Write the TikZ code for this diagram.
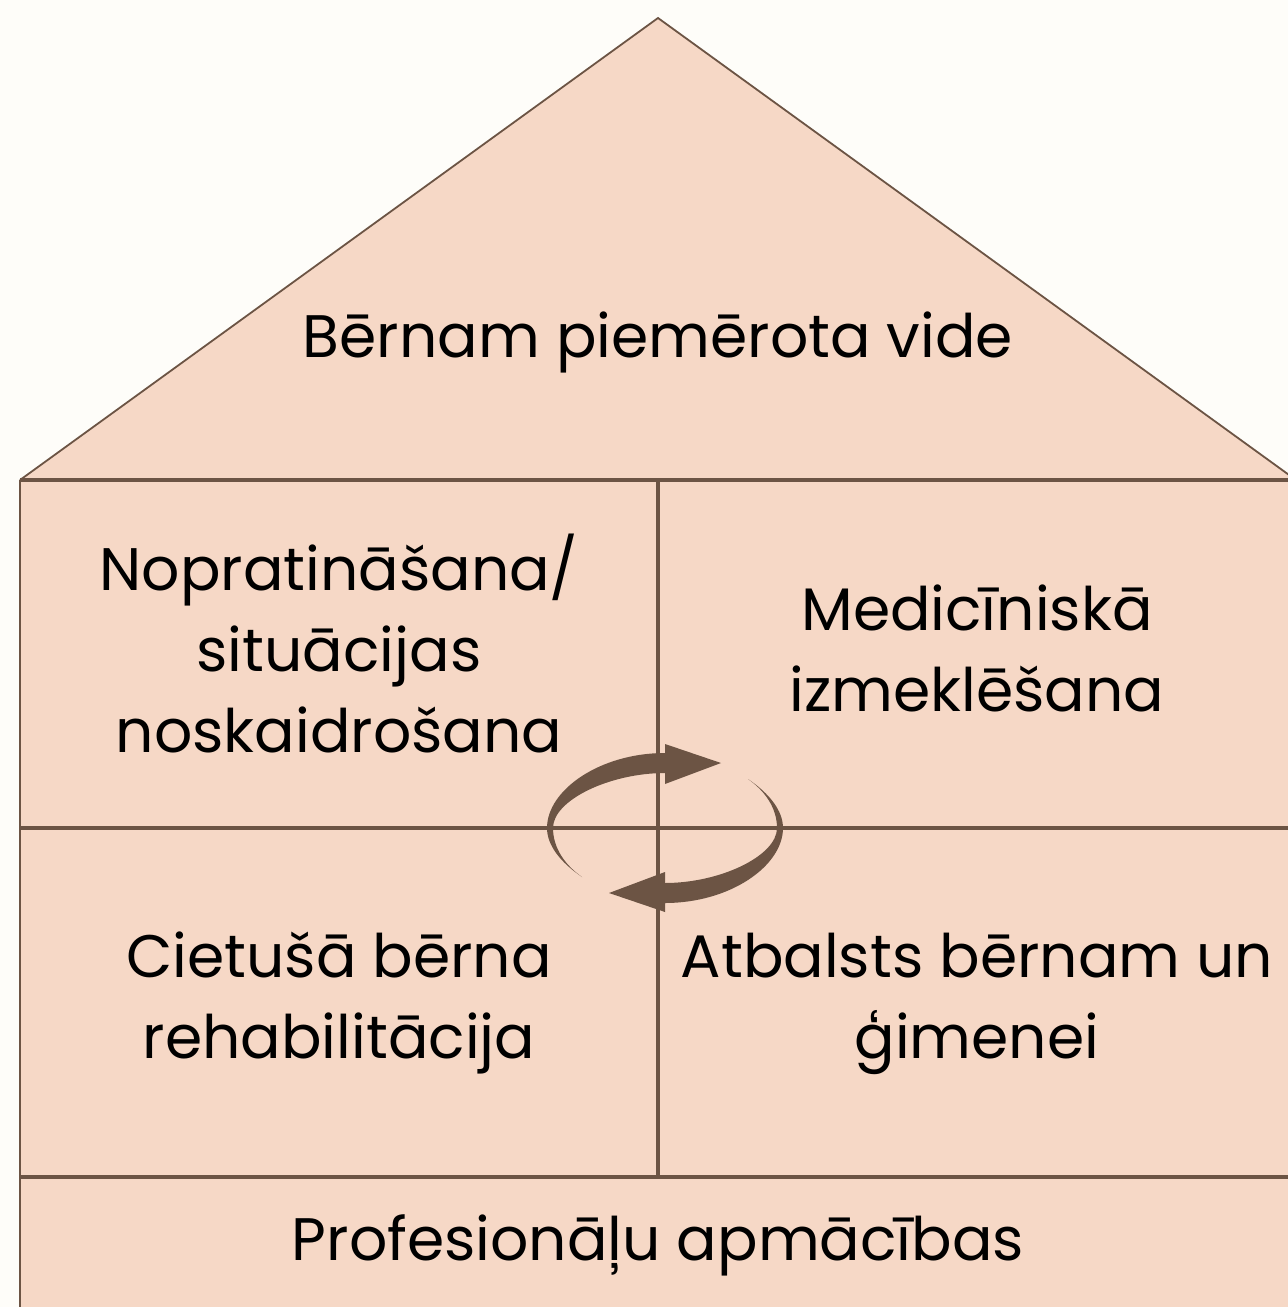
\documentclass[tikz,border=0pt]{standalone}
\usepackage{fontspec}
\setmainfont{Poppins}
\definecolor{bgc}{HTML}{FEFDF9}
\definecolor{peach}{HTML}{F6D8C6}
\definecolor{brownl}{HTML}{6C5444}
\tikzset{
  lbl/.style={font=\fontsize{60}{81}\selectfont, text=black, align=center, inner sep=0pt, anchor=base},
  wall/.style={draw=brownl, line width=3.5pt},
  roofline/.style={draw=brownl, line width=1.8pt},
}
\newcommand{\cyclepath}{%
  (582,877) .. controls (560,862) and (547,845) .. (547,828)
  .. controls (547,790) and (600,753) .. (665,753)
  -- (665,744) -- (721,763) -- (665,784) -- (665,773)
  .. controls (610,773) and (553,800) .. (553,828)
  .. controls (553,848) and (565,865) .. (582,877) -- cycle}
\begin{document}
\begin{tikzpicture}[x=1pt,y=-1pt]
\useasboundingbox (0,0) rectangle (1288,1307);
\fill[bgc] (0,0) rectangle (1288,1307);
\begin{scope}
\clip (0,0) rectangle (1288,1307);
% roof
\fill[peach] (20,480) -- (658,18) -- (1296,480) -- cycle;
\draw[roofline] (20,480) -- (658,18) -- (1296,480);
% body
\fill[peach] (20,480) rectangle (1296,1320);
\draw[draw=brownl, line width=2.5pt] (20,480) -- (20,1320);
\draw[wall] (20,480) -- (1296,480);
\draw[wall] (20,828) -- (1296,828);
\draw[draw=brownl, line width=4pt] (20,1177) -- (1296,1177);
\draw[wall] (658,480) -- (658,1177);
% cycle arrows
\fill[brownl] \cyclepath;
\begin{scope}[rotate around={180:(665,828)}]
\fill[brownl] \cyclepath;
\end{scope}
\end{scope}
% labels
\node[lbl] (roof) at (658,357) {Bērnam piemērota vide};
\node[lbl] (tl) at (339,752) {Nopratināšana/\\situācijas\\noskaidrošana};
\node[lbl] (tr) at (977,711) {Medicīniskā\\izmeklēšana};
\node[lbl] (bl) at (339,1058) {Cietušā bērna\\rehabilitācija};
\node[lbl] (br) at (977,1058) {Atbalsts bērnam un\\ģimenei};
\node[lbl] (base) at (658,1260) {Profesionāļu apmācības};
\end{tikzpicture}
\end{document}
